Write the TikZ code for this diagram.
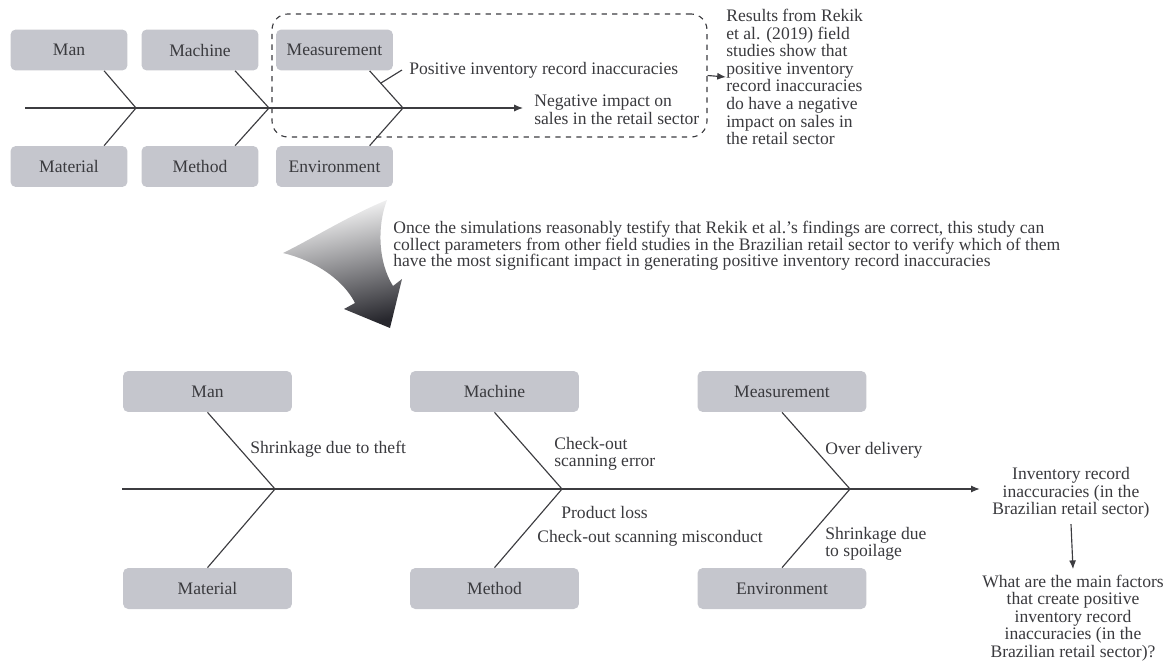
\documentclass[tikz,border=0pt]{standalone}
\usepackage{fontspec}
\setmainfont{Liberation Serif}
\usetikzlibrary{arrows.meta}

\definecolor{cajagris}{RGB}{197,198,205}
\definecolor{tinta}{RGB}{58,58,62}
\definecolor{linea}{RGB}{60,60,64}
\definecolor{puntaoscura}{RGB}{40,40,46}

\tikzset{
  caja/.style={fill=cajagris, rounded corners=3pt, text=tinta, minimum height=0.82cm,
               font=\fontsize{10}{10}\selectfont},
  cajachica/.style={caja, minimum width=2.34cm},
  cajagrande/.style={caja, minimum width=3.38cm},
  rotulo/.style={text=tinta, font=\fontsize{10}{10}\selectfont, align=left, inner sep=0pt},
  espina/.style={draw=linea, line width=0.65pt},
  flecha/.style={espina, -{Latex[length=5pt,width=4pt]}}
}

\begin{document}
\begin{tikzpicture}[x=0.02cm, y=-0.02cm]
  \useasboundingbox (0,0) rectangle (1169,662);

  % Espina de arriba: cajas
  \node[cajachica] (man1) at (69,50) {Man};
  \node[cajachica] (mach1) at (200,50) {Machine};
  \node[cajachica] (meas1) at (334.5,50) {Measurement};
  \node[cajachica] (mat1) at (69,166.5) {Material};
  \node[cajachica] (meth1) at (200,166.5) {Method};
  \node[cajachica] (env1) at (334.5,166.5) {Environment};

  % Espina central y uniones
  \coordinate (s1) at (25,108);
  \coordinate (j1) at (136,108);
  \coordinate (j2) at (269,108);
  \coordinate (j3) at (403,108);
  \coordinate (t1) at (523,108);
  \draw[flecha] (s1) -- (t1);
  \foreach \arriba/\abajo/\union in {man1/mat1/j1, mach1/meth1/j2, meas1/env1/j3}{
    \draw[espina] ([xshift=20pt]\arriba.south) -- (\union);
    \draw[espina] ([xshift=20pt]\abajo.north) -- (\union);
  }

  % Causa y efecto
  \node[rotulo, anchor=west] (pos1) at (409,70) {Positive inventory record inaccuracies};
  \coordinate (p1) at (381,83);
  \draw[espina] (p1) -- ([xshift=-4pt]pos1.west);
  \node[rotulo, anchor=west] (neg1) at (534,110) {Negative impact on\\sales in the retail sector};

  % Recuadro punteado
  \node[draw=linea, dashed, line width=0.65pt, rounded corners=9pt,
        minimum width=8.7cm, minimum height=2.46cm] (grupo) at (489.5,75.5) {};
  \node[rotulo, anchor=west, font=\fontsize{10}{10}\selectfont] (res) at (726,77)
    {Results from Rekik\\et al. (2019) field\\studies show that\\positive inventory\\record inaccuracies\\do have a negative\\impact on sales in\\the retail sector};
  \draw[flecha] (grupo.east) -- (res.west);

  % Flecha curva sombreada
  \path[top color=white, bottom color=puntaoscura, shading angle=12]
    (283,253) .. controls (320,262) and (345,283) .. (355,303) -- (344,309) -- (390,328)
    -- (402,279) -- (393,286) .. controls (378,262) and (377,226) .. (387,200)
    .. controls (350,215) and (310,240) .. (283,253) -- cycle;

  \node[rotulo, anchor=north west, font=\fontsize{10}{9.4}\selectfont] (texto) at (393,221)
    {Once the simulations reasonably testify that Rekik et al.'s findings are correct, this study can\\
     collect parameters from other field studies in the Brazilian retail sector to verify which of them\\
     have the most significant impact in generating positive inventory record inaccuracies};

  % Espina de abajo: cajas
  \node[cajagrande] (man2) at (207.5,391.5) {Man};
  \node[cajagrande] (mach2) at (494.5,391.5) {Machine};
  \node[cajagrande] (meas2) at (782,391.5) {Measurement};
  \node[cajagrande] (mat2) at (207.5,588.5) {Material};
  \node[cajagrande] (meth2) at (494.5,588.5) {Method};
  \node[cajagrande] (env2) at (782,588.5) {Environment};

  \coordinate (s2) at (122,489);
  \coordinate (k1) at (275,489);
  \coordinate (k2) at (562,489);
  \coordinate (k3) at (850,489);
  \foreach \arriba/\abajo/\union in {man2/mat2/k1, mach2/meth2/k2, meas2/env2/k3}{
    \draw[espina] (\arriba.south) -- (\union);
    \draw[espina] (\abajo.north) -- (\union);
  }

  % Efecto y pregunta
  \node[rotulo, align=center, inner xsep=7pt] (inv) at (1071,493)
    {Inventory record\\inaccuracies (in the\\Brazilian retail sector)};
  \draw[flecha] (s2) -- (inv.west |- s2);
  \node[rotulo, align=center] (preg) at (1073,618)
    {What are the main factors\\that create positive\\inventory record\\inaccuracies (in the\\Brazilian retail sector)?};
  \draw[flecha] ([yshift=-3pt]inv.south) -- ([yshift=3pt]preg.north);

  % Causas
  \node[rotulo, anchor=west] (robo) at (250,449) {Shrinkage due to theft};
  \node[rotulo, anchor=west] (error) at (554,454) {Check-out\\scanning error};
  \node[rotulo, anchor=west] (perdida) at (561,512) {Product loss};
  \node[rotulo, anchor=west] (mala) at (537,538) {Check-out scanning misconduct};
  \node[rotulo, anchor=west] (sobre) at (825,450) {Over delivery};
  \node[rotulo, anchor=west] (deterioro) at (825,544) {Shrinkage due\\to spoilage};
\end{tikzpicture}
\end{document}
